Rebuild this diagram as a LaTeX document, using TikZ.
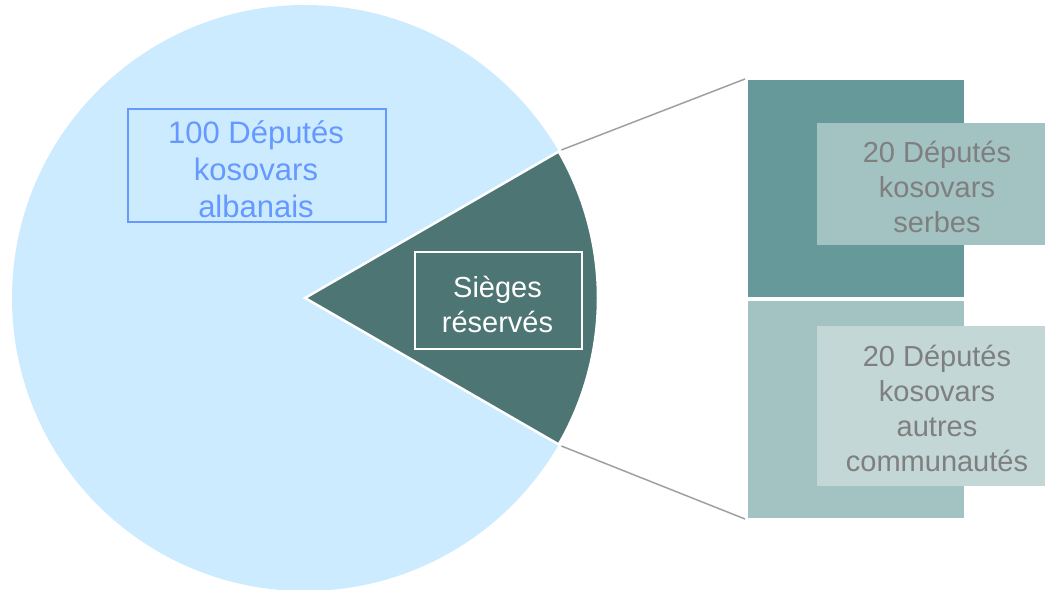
\documentclass[tikz,border=0pt]{standalone}
\usepackage{fontspec}
\setmainfont{Liberation Sans}
\usetikzlibrary{calc}
\definecolor{pieblue}{HTML}{CCEBFF}
\definecolor{wedge}{HTML}{4D7573}
\definecolor{tealdark}{HTML}{669999}
\definecolor{teallight}{HTML}{A3C2C2}
\definecolor{tealpale}{HTML}{C2D7D6}
\definecolor{labelblue}{HTML}{6699FF}
\definecolor{labelgray}{HTML}{7F7F7F}
\definecolor{linegray}{HTML}{A0A0A0}
\tikzset{
  bigtext/.style={font=\fontsize{31bp}{37bp}\selectfont, align=center},
  midtext/.style={font=\fontsize{29bp}{35bp}\selectfont, align=center},
  connector/.style={draw=linegray, line width=1.5bp},
}
\begin{document}
\begin{tikzpicture}[x=1bp,y=1bp]
\useasboundingbox (0,0) rectangle (1045,590);
% pie
\fill[pieblue] (305,292) circle[radius=293bp];
\filldraw[fill=wedge, draw=white, line width=2.5bp, line join=miter]
  (305,292) -- ++(30:293bp) arc[start angle=30, end angle=-30, radius=293bp] -- cycle;
\coordinate (wt) at ($(305,292)+(30:296bp)$);
\coordinate (wb) at ($(305,292)+(-30:296bp)$);
% right blocks
\node[fill=tealdark, minimum width=216bp, minimum height=217bp, inner sep=0, anchor=south west] (top) at (748,293) {};
\node[fill=teallight, minimum width=216bp, minimum height=217bp, inner sep=0, anchor=south west] (bot) at (748,72) {};
\coordinate (tc) at (745,511);
\coordinate (bc) at (745,71);
\draw[connector] (wt) -- (tc);
\draw[connector] (wb) -- (bc);
% labels on blocks
\node[fill=teallight, minimum width=240bp, minimum height=122bp, inner sep=0, anchor=south west] (serbbox) at (817,345) {};
\node[midtext, text=labelgray] (serb) at (937,403) {20 Députés\\kosovars\\serbes};
\node[fill=tealpale, minimum width=240bp, minimum height=160bp, inner sep=0, anchor=south west] (autbox) at (817,104) {};
\node[midtext, text=labelgray] (aut) at (937,182) {20 Députés\\kosovars\\autres\\communautés};
% pie labels
\node[draw=white, line width=1.5bp, minimum width=167bp, minimum height=97bp, inner sep=0, anchor=south west] (siegbox) at (414,240) {};
\node[midtext, text=white] (sieg) at (497.5,286) {Sièges\\réservés};
\node[draw=labelblue, line width=1.5bp, minimum width=258bp, minimum height=113bp, inner sep=0, anchor=south west] (albbox) at (127,367) {};
\node[bigtext, text=labelblue] (alb) at (256,421) {100 Députés\\kosovars\\albanais};
\end{tikzpicture}
\end{document}
